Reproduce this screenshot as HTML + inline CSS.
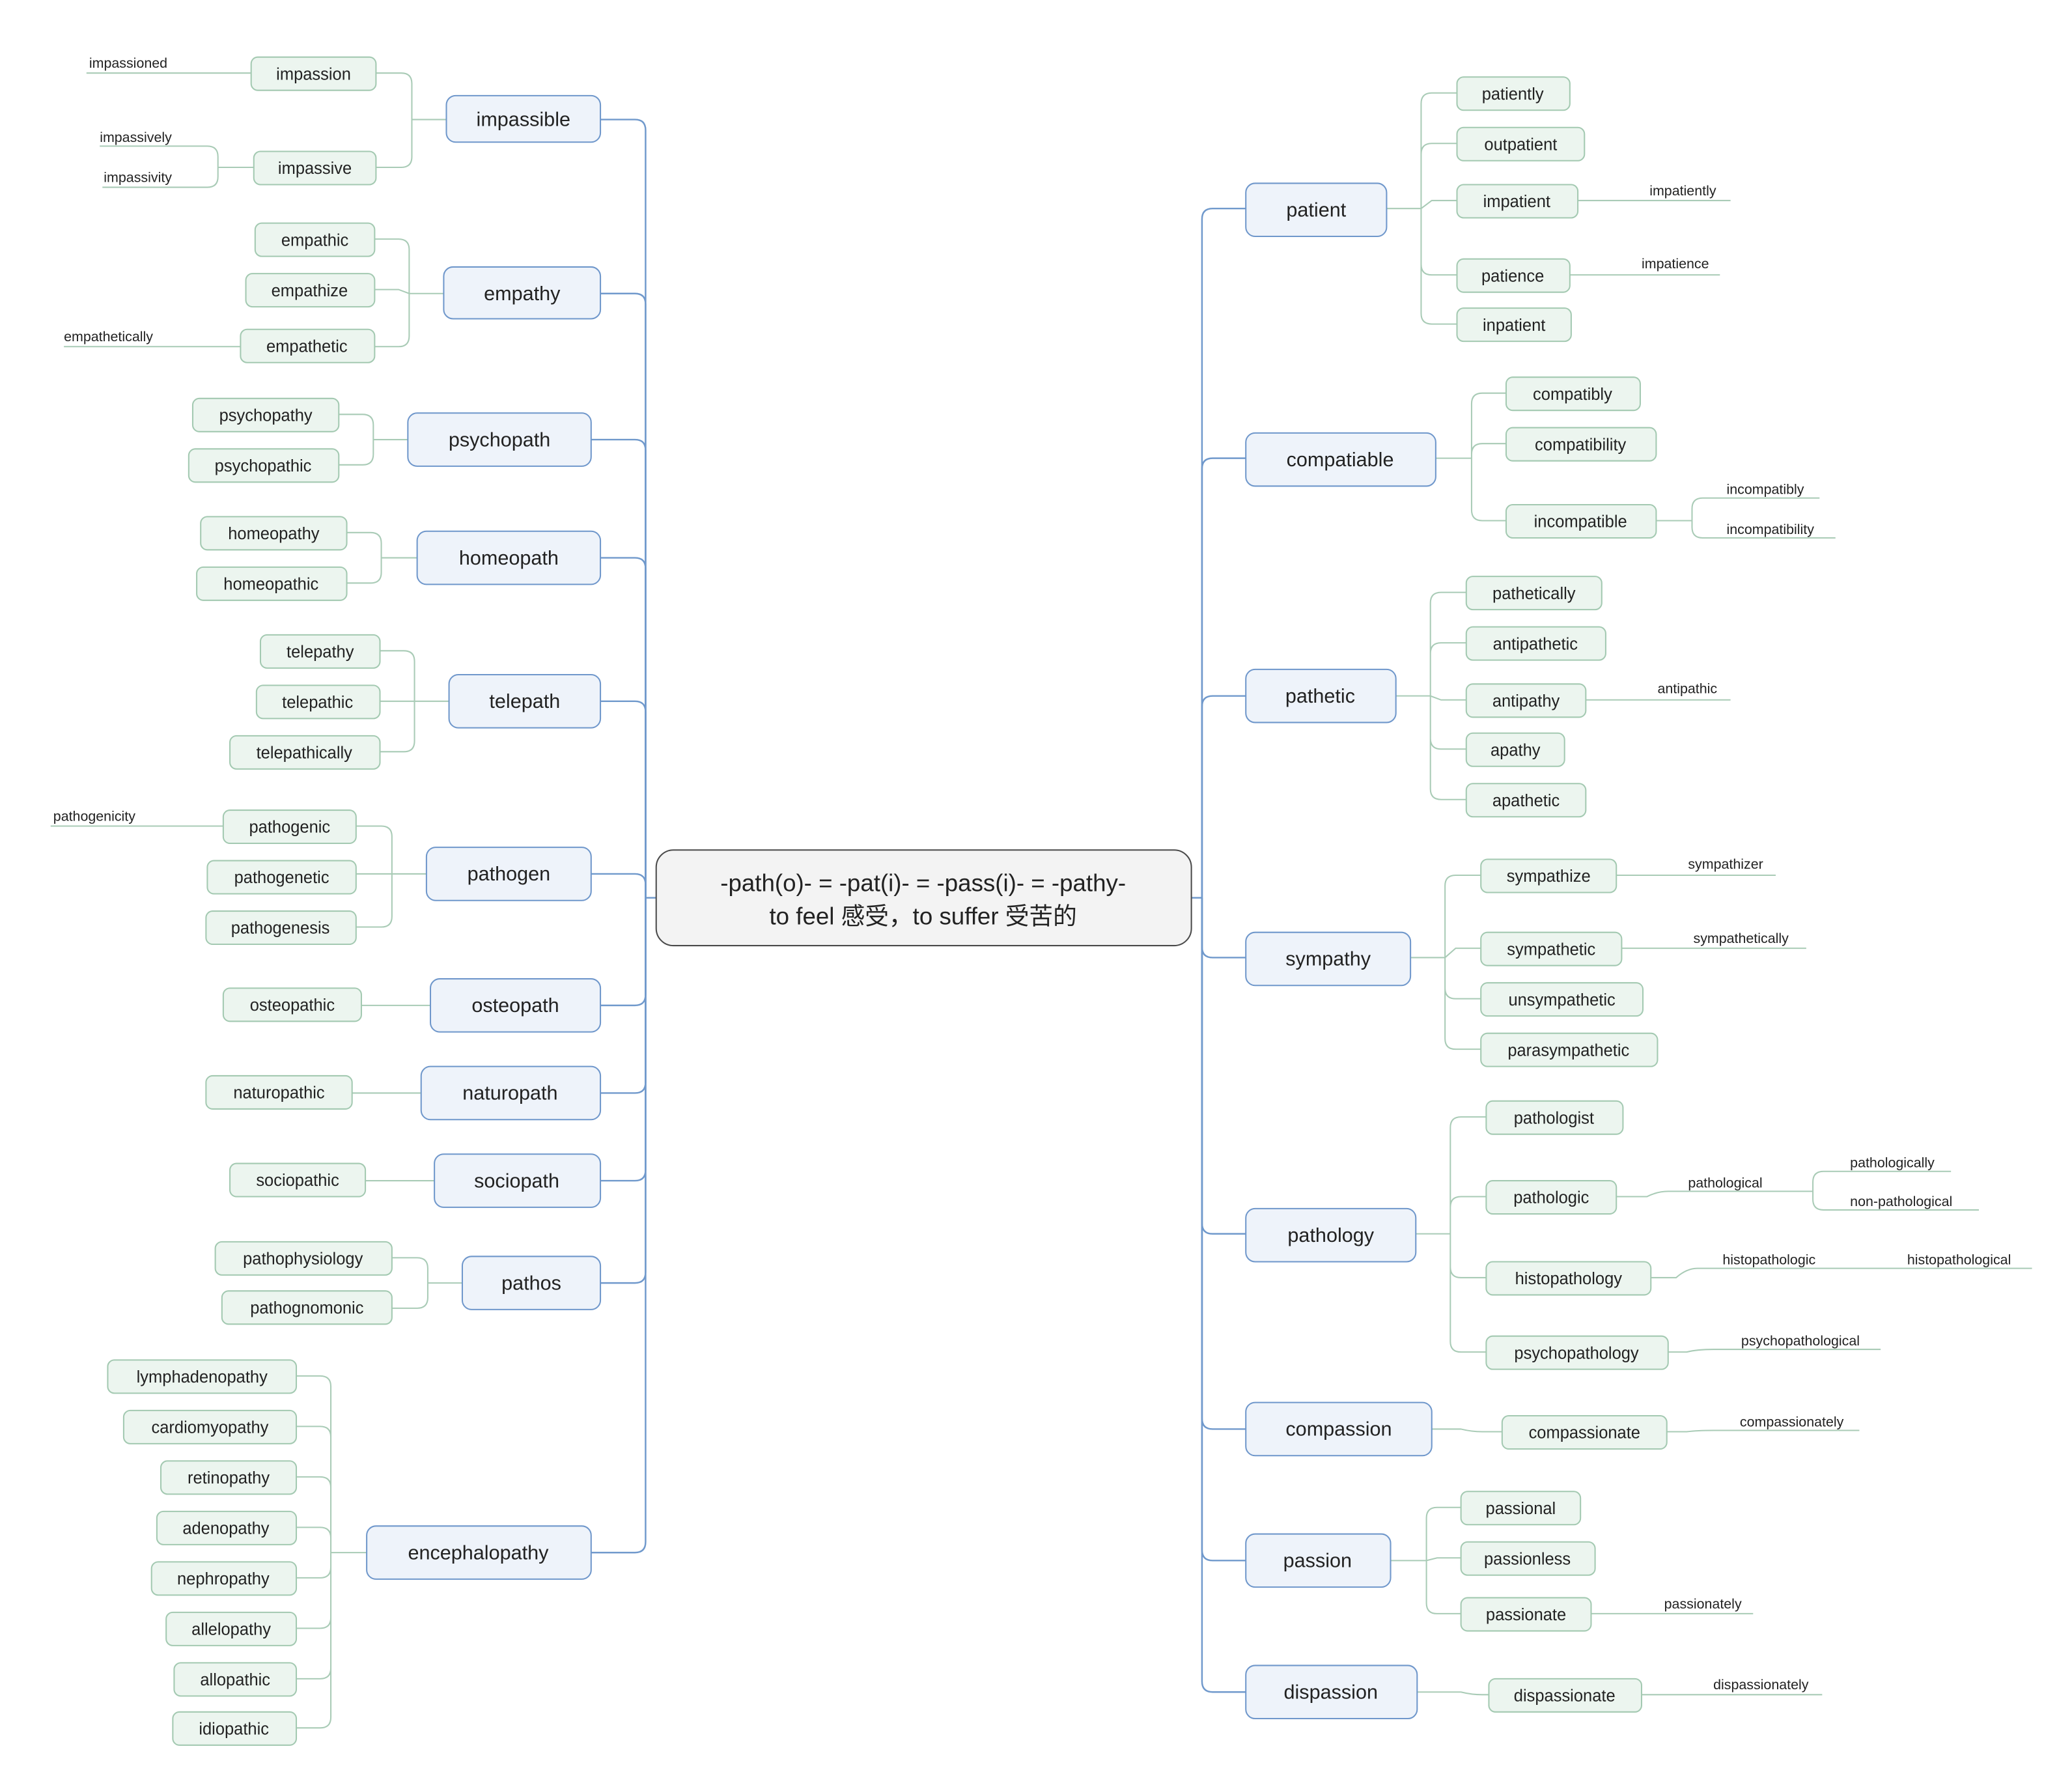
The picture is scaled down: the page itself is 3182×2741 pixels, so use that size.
<!DOCTYPE html>
<html><head><meta charset="utf-8"><style>
html,body{margin:0;padding:0;background:#fff}
svg{display:block}
text{font-family:"Liberation Sans","Noto Sans CJK SC",sans-serif;fill:#222}
.m rect{fill:#eef3fa;stroke:#6f97cb;stroke-width:1}
.m text{font-size:15px;text-anchor:middle}
.s rect{fill:#ecf5ef;stroke:#a3c9b1;stroke-width:1}
.s text{font-size:12.5px;text-anchor:middle}
.l{font-size:10.5px}
.b path{fill:none;stroke:#7099cc;stroke-width:1.2}
.g path{fill:none;stroke:#a9cbb6;stroke-width:1}
</style></head><body>
<svg width="3182" height="2741" viewBox="0 0 1560 1344" xmlns="http://www.w3.org/2000/svg">
<g class="b">
<path d="M486,676H494M897,676H905"/>
<path d="M452,90H478Q486,90 486,98V676"/>
<path d="M452,221H478Q486,221 486,229V676"/>
<path d="M445,331H478Q486,331 486,339V676"/>
<path d="M452,420H478Q486,420 486,428V676"/>
<path d="M452,528H478Q486,528 486,536V676"/>
<path d="M445,658H478Q486,658 486,666V676"/>
<path d="M452,757H478Q486,757 486,749V676"/>
<path d="M452,823H478Q486,823 486,815V676"/>
<path d="M452,889H478Q486,889 486,881V676"/>
<path d="M452,966H478Q486,966 486,958V676"/>
<path d="M445,1169H478Q486,1169 486,1161V676"/>
<path d="M938,157H913Q905,157 905,165V676"/>
<path d="M938,345H913Q905,345 905,353V676"/>
<path d="M938,524H913Q905,524 905,532V676"/>
<path d="M938,721H913Q905,721 905,713V676"/>
<path d="M938,929H913Q905,929 905,921V676"/>
<path d="M938,1076H913Q905,1076 905,1068V676"/>
<path d="M938,1175H913Q905,1175 905,1167V676"/>
<path d="M938,1274H913Q905,1274 905,1266V676"/>
</g>
<g class="g">
<path d="M336,90H310V63Q310,55 302,55H283M336,90H310V118Q310,126 302,126H283"/>
<path d="M189,55H65"/>
<path d="M191,126H164V118Q164,110 156,110H75M191,126H164V133Q164,141 156,141H77"/>
<path d="M334,221H308V188Q308,180 300,180H282M334,221H308L300,218H282M334,221H308V253Q308,261 300,261H282"/>
<path d="M181,261H48"/>
<path d="M307,331H281V320Q281,312 273,312H255M307,331H281V342Q281,350 273,350H255"/>
<path d="M314,420H287V409Q287,401 279,401H261M314,420H287V431Q287,439 279,439H261"/>
<path d="M338,528H312V498Q312,490 304,490H286M338,528H286M338,528H312V558Q312,566 304,566H286"/>
<path d="M321,658H295V630Q295,622 287,622H268M321,658H268M321,658H295V690Q295,698 287,698H268"/>
<path d="M168,622H38"/>
<path d="M324,757H272M317,823H265M327,889H275"/>
<path d="M348,966H322V955Q322,947 314,947H295M348,966H322V977Q322,985 314,985H295"/>
<path d="M276,1169H249V1044Q249,1036 241,1036H223M276,1169H249V1082Q249,1074 241,1074H223M276,1169H249V1120Q249,1112 241,1112H223M276,1169H249V1158Q249,1150 241,1150H223M276,1169H249V1180Q249,1188 241,1188H223M276,1169H249V1218Q249,1226 241,1226H223M276,1169H249V1256Q249,1264 241,1264H223M276,1169H249V1293Q249,1301 241,1301H223"/>
<path d="M1044,157H1070V78Q1070,70 1078,70H1097M1044,157H1070V116Q1070,108 1078,108H1097M1044,157H1070L1078,151H1097M1044,157H1070V199Q1070,207 1078,207H1097M1044,157H1070V236Q1070,244 1078,244H1097"/>
<path d="M1188,151H1303M1182,207H1295"/>
<path d="M1081,345H1108V304Q1108,296 1116,296H1134M1081,345H1108V342Q1108,334 1116,334H1134M1081,345H1108V384Q1108,392 1116,392H1134"/>
<path d="M1247,392H1274V383Q1274,375 1282,375H1370M1247,392H1274V397Q1274,405 1282,405H1382"/>
<path d="M1051,524H1077V454Q1077,446 1085,446H1104M1051,524H1077V492Q1077,484 1085,484H1104M1051,524H1077L1085,527H1104M1051,524H1077V556Q1077,564 1085,564H1104M1051,524H1077V594Q1077,602 1085,602H1104"/>
<path d="M1194,527H1303"/>
<path d="M1062,721H1088V667Q1088,659 1096,659H1115M1062,721H1088L1096,714H1115M1062,721H1088V744Q1088,752 1096,752H1115M1062,721H1088V782Q1088,790 1096,790H1115"/>
<path d="M1217,659H1337M1221,714H1360"/>
<path d="M1066,929H1092V849Q1092,841 1100,841H1119M1066,929H1092V909Q1092,901 1100,901H1119M1066,929H1092V954Q1092,962 1100,962H1119M1066,929H1092V1010Q1092,1018 1100,1018H1119"/>
<path d="M1217,901H1240Q1248,897 1256,897H1365M1365,897V890Q1365,882 1373,882H1469M1365,897V903Q1365,911 1373,911H1490"/>
<path d="M1243,962H1262Q1270,955 1278,955H1530"/>
<path d="M1256,1018H1270Q1278,1016 1290,1016H1416"/>
<path d="M1078,1076H1100Q1108,1078 1116,1078H1131M1255,1078H1270Q1278,1077 1290,1077H1400"/>
<path d="M1047,1175H1074V1143Q1074,1135 1082,1135H1100M1047,1175H1074L1082,1173H1100M1047,1175H1074V1207Q1074,1215 1082,1215H1100"/>
<path d="M1198,1215H1320"/>
<path d="M1067,1274H1100Q1108,1276 1116,1276H1121M1236,1276H1372"/>
</g>

<rect x="494" y="640" width="403" height="72" rx="13" fill="#f3f3f3" stroke="#4a4a4a" stroke-width="1"/>
<text x="695" y="671" font-size="18" text-anchor="middle">-path(o)- = -pat(i)- = -pass(i)- = -pathy-</text>
<text x="695" y="696" font-size="18" text-anchor="middle">to feel 感受，to suffer 受苦的</text>

<g class="m">
<rect x="336" y="72" width="116" height="35" rx="7"/><text x="394" y="95">impassible</text>
<rect x="334" y="201" width="118" height="39" rx="7"/><text x="393" y="226">empathy</text>
<rect x="307" y="311" width="138" height="40" rx="7"/><text x="376" y="336">psychopath</text>
<rect x="314" y="400" width="138" height="40" rx="7"/><text x="383" y="425">homeopath</text>
<rect x="338" y="508" width="114" height="40" rx="7"/><text x="395" y="533">telepath</text>
<rect x="321" y="638" width="124" height="40" rx="7"/><text x="383" y="663">pathogen</text>
<rect x="324" y="737" width="128" height="40" rx="7"/><text x="388" y="762">osteopath</text>
<rect x="317" y="803" width="135" height="40" rx="7"/><text x="384" y="828">naturopath</text>
<rect x="327" y="869" width="125" height="40" rx="7"/><text x="389" y="894">sociopath</text>
<rect x="348" y="946" width="104" height="40" rx="7"/><text x="400" y="971">pathos</text>
<rect x="276" y="1149" width="169" height="40" rx="7"/><text x="360" y="1174">encephalopathy</text>
<rect x="938" y="138" width="106" height="40" rx="7"/><text x="991" y="163">patient</text>
<rect x="938" y="326" width="143" height="40" rx="7"/><text x="1009" y="351">compatiable</text>
<rect x="938" y="504" width="113" height="40" rx="7"/><text x="994" y="529">pathetic</text>
<rect x="938" y="702" width="124" height="40" rx="7"/><text x="1000" y="727">sympathy</text>
<rect x="938" y="910" width="128" height="40" rx="7"/><text x="1002" y="935">pathology</text>
<rect x="938" y="1056" width="140" height="40" rx="7"/><text x="1008" y="1081">compassion</text>
<rect x="938" y="1155" width="109" height="40" rx="7"/><text x="992" y="1180">passion</text>
<rect x="938" y="1254" width="129" height="40" rx="7"/><text x="1002" y="1279">dispassion</text>
</g>

<g class="s">
<rect x="189" y="43" width="94" height="25" rx="5"/><text x="236" y="60">impassion</text>
<rect x="191" y="114" width="92" height="25" rx="5"/><text x="237" y="131">impassive</text>
<rect x="192" y="168" width="90" height="25" rx="5"/><text x="237" y="185">empathic</text>
<rect x="185" y="206" width="97" height="25" rx="5"/><text x="233" y="223">empathize</text>
<rect x="181" y="248" width="101" height="25" rx="5"/><text x="231" y="265">empathetic</text>
<rect x="145" y="300" width="110" height="25" rx="5"/><text x="200" y="317">psychopathy</text>
<rect x="142" y="338" width="113" height="25" rx="5"/><text x="198" y="355">psychopathic</text>
<rect x="151" y="389" width="110" height="25" rx="5"/><text x="206" y="406">homeopathy</text>
<rect x="148" y="427" width="113" height="25" rx="5"/><text x="204" y="444">homeopathic</text>
<rect x="196" y="478" width="90" height="25" rx="5"/><text x="241" y="495">telepathy</text>
<rect x="193" y="516" width="93" height="25" rx="5"/><text x="239" y="533">telepathic</text>
<rect x="173" y="554" width="113" height="25" rx="5"/><text x="229" y="571">telepathically</text>
<rect x="168" y="610" width="100" height="25" rx="5"/><text x="218" y="627">pathogenic</text>
<rect x="156" y="648" width="112" height="25" rx="5"/><text x="212" y="665">pathogenetic</text>
<rect x="155" y="686" width="113" height="25" rx="5"/><text x="211" y="703">pathogenesis</text>
<rect x="168" y="744" width="104" height="25" rx="5"/><text x="220" y="761">osteopathic</text>
<rect x="155" y="810" width="110" height="25" rx="5"/><text x="210" y="827">naturopathic</text>
<rect x="173" y="876" width="102" height="25" rx="5"/><text x="224" y="893">sociopathic</text>
<rect x="162" y="935" width="133" height="25" rx="5"/><text x="228" y="952">pathophysiology</text>
<rect x="167" y="972" width="128" height="25" rx="5"/><text x="231" y="989">pathognomonic</text>
<rect x="81" y="1024" width="142" height="25" rx="5"/><text x="152" y="1041">lymphadenopathy</text>
<rect x="93" y="1062" width="130" height="25" rx="5"/><text x="158" y="1079">cardiomyopathy</text>
<rect x="121" y="1100" width="102" height="25" rx="5"/><text x="172" y="1117">retinopathy</text>
<rect x="118" y="1138" width="105" height="25" rx="5"/><text x="170" y="1155">adenopathy</text>
<rect x="114" y="1176" width="109" height="25" rx="5"/><text x="168" y="1193">nephropathy</text>
<rect x="125" y="1214" width="98" height="25" rx="5"/><text x="174" y="1231">allelopathy</text>
<rect x="131" y="1252" width="92" height="25" rx="5"/><text x="177" y="1269">allopathic</text>
<rect x="130" y="1289" width="93" height="25" rx="5"/><text x="176" y="1306">idiopathic</text>

<rect x="1097" y="58" width="85" height="25" rx="5"/><text x="1139" y="75">patiently</text>
<rect x="1097" y="96" width="96" height="25" rx="5"/><text x="1145" y="113">outpatient</text>
<rect x="1097" y="139" width="91" height="25" rx="5"/><text x="1142" y="156">impatient</text>
<rect x="1097" y="195" width="85" height="25" rx="5"/><text x="1139" y="212">patience</text>
<rect x="1097" y="232" width="86" height="25" rx="5"/><text x="1140" y="249">inpatient</text>
<rect x="1134" y="284" width="101" height="25" rx="5"/><text x="1184" y="301">compatibly</text>
<rect x="1134" y="322" width="113" height="25" rx="5"/><text x="1190" y="339">compatibility</text>
<rect x="1134" y="380" width="113" height="25" rx="5"/><text x="1190" y="397">incompatible</text>
<rect x="1104" y="434" width="102" height="25" rx="5"/><text x="1155" y="451">pathetically</text>
<rect x="1104" y="472" width="105" height="25" rx="5"/><text x="1156" y="489">antipathetic</text>
<rect x="1104" y="515" width="90" height="25" rx="5"/><text x="1149" y="532">antipathy</text>
<rect x="1104" y="552" width="74" height="25" rx="5"/><text x="1141" y="569">apathy</text>
<rect x="1104" y="590" width="90" height="25" rx="5"/><text x="1149" y="607">apathetic</text>
<rect x="1115" y="647" width="102" height="25" rx="5"/><text x="1166" y="664">sympathize</text>
<rect x="1115" y="702" width="106" height="25" rx="5"/><text x="1168" y="719">sympathetic</text>
<rect x="1115" y="740" width="122" height="25" rx="5"/><text x="1176" y="757">unsympathetic</text>
<rect x="1115" y="778" width="133" height="25" rx="5"/><text x="1181" y="795">parasympathetic</text>
<rect x="1119" y="829" width="103" height="25" rx="5"/><text x="1170" y="846">pathologist</text>
<rect x="1119" y="889" width="98" height="25" rx="5"/><text x="1168" y="906">pathologic</text>
<rect x="1119" y="950" width="124" height="25" rx="5"/><text x="1181" y="967">histopathology</text>
<rect x="1119" y="1006" width="137" height="25" rx="5"/><text x="1187" y="1023">psychopathology</text>
<rect x="1131" y="1066" width="124" height="25" rx="5"/><text x="1193" y="1083">compassionate</text>
<rect x="1100" y="1123" width="90" height="25" rx="5"/><text x="1145" y="1140">passional</text>
<rect x="1100" y="1161" width="101" height="25" rx="5"/><text x="1150" y="1178">passionless</text>
<rect x="1100" y="1203" width="98" height="25" rx="5"/><text x="1149" y="1220">passionate</text>
<rect x="1121" y="1264" width="115" height="25" rx="5"/><text x="1178" y="1281">dispassionate</text>
</g>

<g class="l">
<text x="67" y="51" class="l">impassioned</text>
<text x="75" y="107" class="l">impassively</text>
<text x="78" y="137" class="l">impassivity</text>
<text x="48" y="257" class="l">empathetically</text>
<text x="40" y="618" class="l">pathogenicity</text>
<text x="1242" y="147" class="l">impatiently</text>
<text x="1236" y="202" class="l">impatience</text>
<text x="1300" y="372" class="l">incompatibly</text>
<text x="1300" y="402" class="l">incompatibility</text>
<text x="1248" y="522" class="l">antipathic</text>
<text x="1271" y="654" class="l">sympathizer</text>
<text x="1275" y="710" class="l">sympathetically</text>
<text x="1271" y="894" class="l">pathological</text>
<text x="1393" y="879" class="l">pathologically</text>
<text x="1393" y="908" class="l">non-pathological</text>
<text x="1297" y="952" class="l">histopathologic</text>
<text x="1436" y="952" class="l">histopathological</text>
<text x="1311" y="1013" class="l">psychopathological</text>
<text x="1310" y="1074" class="l">compassionately</text>
<text x="1253" y="1211" class="l">passionately</text>
<text x="1290" y="1272" class="l">dispassionately</text>
</g>
</svg>
</body></html>
